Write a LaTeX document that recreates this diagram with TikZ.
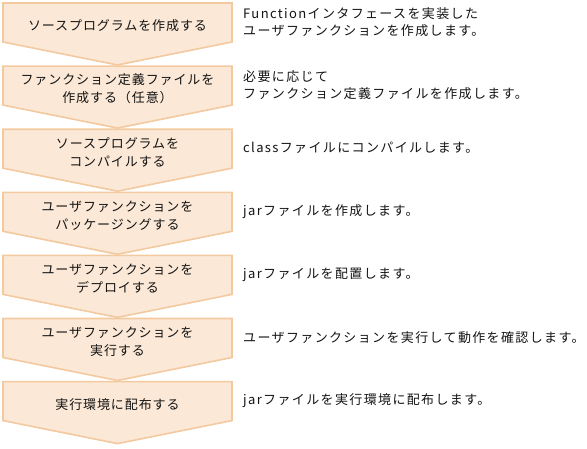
\documentclass[tikz,border=0pt]{standalone}
\usepackage{fontspec}
\newfontfamily\jpfont{Noto Sans CJK JP}[LetterSpace=7]
\newfontfamily\jpnotefont{Noto Sans CJK JP}[LetterSpace=10.5]
\definecolor{flowfill}{RGB}{251,232,214}
\definecolor{flowedge}{RGB}{243,201,160}
\definecolor{flowtext}{RGB}{20,20,20}
\begin{document}
\begin{tikzpicture}[x=1pt,y=-1pt,
  stepshape/.style={draw=flowedge,fill=flowfill,line width=1.6pt,line join=miter},
  steplabel/.style={font=\jpfont\fontsize{13}{18}\selectfont,align=center,text=flowtext},
  notelabel/.style={font=\jpnotefont\fontsize{13}{17.5}\selectfont,align=left,anchor=west,inner sep=0pt,text=flowtext}]
  \useasboundingbox (0,0) rectangle (587,448);
  % steps on the left, what to do on the right
  \foreach \i/\step/\note in {
    1/{ソースプログラムを作成する}/{Functionインタフェースを実装した\\ユーザファンクションを作成します。},
    2/{ファンクション定義ファイルを\\作成する（任意）}/{必要に応じて\\ファンクション定義ファイルを作成します。},
    3/{ソースプログラムを\\コンパイルする}/{classファイルにコンパイルします。},
    4/{ユーザファンクションを\\パッケージングする}/{jarファイルを作成します。},
    5/{ユーザファンクションを\\デプロイする}/{jarファイルを配置します。},
    6/{ユーザファンクションを\\実行する}/{ユーザファンクションを実行して動作を確認します。},
    7/{実行環境に配布する}/{jarファイルを実行環境に配布します。}}{
    \pgfmathsetmacro\ytop{3+(\i-1)*63.1}
    \draw[stepshape] (3,\ytop) -- (232,\ytop) -- (232,\ytop+39) -- (117.5,\ytop+62) -- (3,\ytop+39) -- cycle;
    \node[steplabel] (step\i) at (117.5,\ytop+23) {\step};
    \node[notelabel] (note\i) at (243,\ytop+19) {\note};
  }
\end{tikzpicture}
\end{document}
